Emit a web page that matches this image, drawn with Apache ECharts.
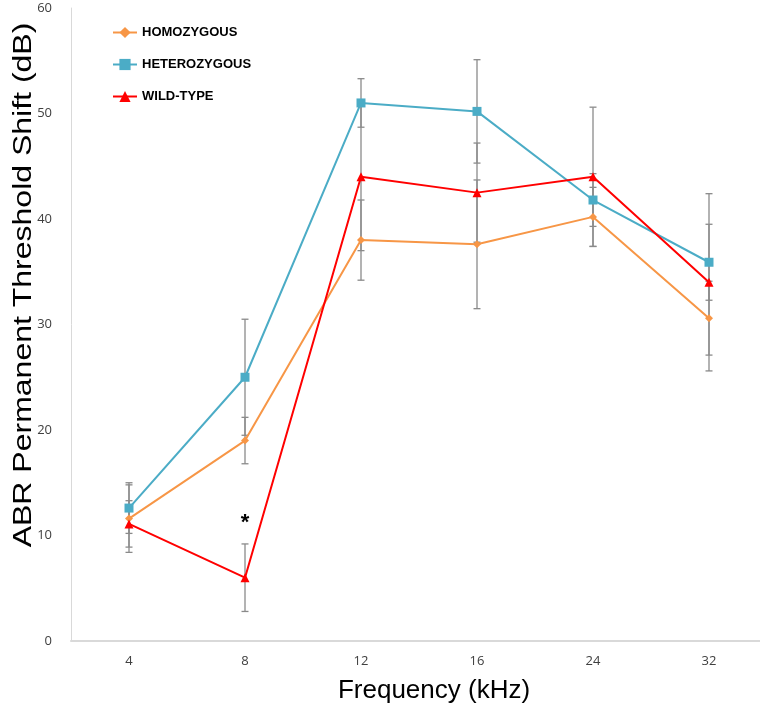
<!DOCTYPE html>
<html>
<head>
<meta charset="utf-8">
<script src="https://cdn.jsdelivr.net/npm/echarts@6/dist/echarts.min.js"></script>
<style>html,body{margin:0;padding:0;background:#fff;}#c{width:760px;height:709px;}</style>
</head>
<body>
<div id="c"></div>
<script>
var categories = ['4', '8', '12', '16', '24', '32'];
var yTicks = [0, 10, 20, 30, 40, 50, 60];

var homoName = 'HOMOZYGOUS';
var homoValues = [11.6, 19, 38, 37.6, 40.2, 30.6];
var homoErr = [3.2, 2.2, 3.8, 6.1, 2.8, 3.5];

var hetName = 'HETEROZYGOUS';
var hetValues = [12.6, 25, 51, 50.2, 41.8, 35.9];
var hetErr = [2.4, 5.5, 2.3, 4.9, 2.5, 3.6];

var wildName = 'WILD-TYPE';
var wildValues = [11.1, 6, 44, 42.5, 44, 34];
var wildErr = [2.2, 3.2, 7, 4.7, 6.6, 8.4];

var annotationText = '*';
var annotationIndex = 1;
var annotationValue = 11.2;

var xTitle = 'Frequency (kHz)';
var yTitle = 'ABR Permanent Threshold Shift (dB)';

function errData(vals, errs) {
  return vals.map(function (v, i) { return [i, v - errs[i], v + errs[i]]; });
}

function renderErr(params, api) {
  var x = api.value(0);
  var lo = api.coord([x, api.value(1)]);
  var hi = api.coord([x, api.value(2)]);
  var hw = 3.5;
  var st = { stroke: '#8a8a8a', lineWidth: 1.3 };
  return {
    type: 'group',
    children: [
      { type: 'line', shape: { x1: lo[0], y1: lo[1], x2: hi[0], y2: hi[1] }, style: st },
      { type: 'line', shape: { x1: lo[0] - hw, y1: lo[1], x2: lo[0] + hw, y2: lo[1] }, style: st },
      { type: 'line', shape: { x1: hi[0] - hw, y1: hi[1], x2: hi[0] + hw, y2: hi[1] }, style: st }
    ]
  };
}

function errSeries(name, vals, errs) {
  return {
    type: 'custom', name: name, renderItem: renderErr, data: errData(vals, errs),
    z: 1, silent: true, encode: { x: 0, y: [1, 2] }
  };
}

function lineSeries(name, vals, color, symbol, size, extra) {
  var s = {
    type: 'line', name: name, data: vals, z: 3,
    symbol: symbol, symbolSize: size, showSymbol: true,
    lineStyle: { color: color, width: 2 },
    itemStyle: { color: color },
    animation: false
  };
  if (extra) { for (var k in extra) s[k] = extra[k]; }
  return s;
}

var chart = echarts.init(document.getElementById('c'), null, { renderer: 'canvas' });
chart.setOption({
  animation: false,
  backgroundColor: '#ffffff',
  grid: { left: 71, top: 8, width: 696, bottom: 68, outerBoundsMode: 'none', containLabel: false },
  legend: {
    data: [homoName, hetName, wildName],
    orient: 'vertical', left: 107, top: 21,
    itemWidth: 24, itemHeight: 14, itemGap: 19,
    textStyle: { fontFamily: 'Liberation Sans, Arial', fontWeight: 'bold', fontSize: 13, color: '#000' }
  },
  xAxis: {
    type: 'category', data: categories, boundaryGap: true,
    axisLine: { show: true, lineStyle: { color: '#d9d9d9', width: 2 } },
    axisTick: { show: false },
    axisLabel: { fontFamily: 'Open Sans', fontSize: 13, color: '#404040', margin: 14 },
    splitLine: { show: false }
  },
  yAxis: {
    type: 'value', min: yTicks[0], max: yTicks[yTicks.length - 1], interval: 10,
    axisLine: { show: true, lineStyle: { color: '#d9d9d9', width: 1 } },
    axisTick: { show: false },
    axisLabel: { fontFamily: 'Open Sans', fontSize: 13, color: '#404040', margin: 19 },
    splitLine: { show: false }
  },
  graphic: [
    {
      type: 'text', x: 434, y: 691,
      style: { text: xTitle, font: '26px "Liberation Sans", Arial', fill: '#000', align: 'center', verticalAlign: 'middle' }
    },
    {
      type: 'text', x: 24, y: 285, rotation: Math.PI / 2, scaleX: 1.28, scaleY: 1,
      style: { text: yTitle, font: '25px "Liberation Sans", Arial', fill: '#000', align: 'center', verticalAlign: 'middle' }
    }
  ],
  series: [
    errSeries('errHomo', homoValues, homoErr),
    errSeries('errHet', hetValues, hetErr),
    errSeries('errWild', wildValues, wildErr),
    lineSeries(homoName, homoValues, '#F79646', 'diamond', 8),
    lineSeries(hetName, hetValues, '#4BACC6', 'rect', 9),
    lineSeries(wildName, wildValues, '#FF0000', 'triangle', 9, {
      markPoint: {
        symbol: 'circle', symbolSize: 0, silent: true,
        label: { show: true, formatter: annotationText, position: 'inside', fontFamily: 'Liberation Sans, Arial', fontWeight: 'bold', fontSize: 22, color: '#000' },
        data: [{ coord: [annotationIndex, annotationValue] }]
      }
    })
  ]
});
</script>
</body>
</html>
